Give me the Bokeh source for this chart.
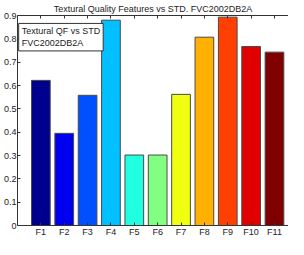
from bokeh.plotting import figure
from bokeh.models import ColumnDataSource, LinearAxis, FixedTicker, Label, Range1d
from bokeh.embed import file_html
from bokeh.resources import INLINE

categories = ["F1", "F2", "F3", "F4", "F5", "F6", "F7", "F8", "F9", "F10", "F11"]
values = [0.622, 0.395, 0.558, 0.880, 0.302, 0.302, 0.562, 0.807, 0.893, 0.767, 0.743]
colors = ["#00008F", "#0000F0", "#0050FF", "#00C0FF", "#20FFE0", "#80FF80",
          "#F0FF10", "#FFB000", "#FF4000", "#E00000", "#800000"]
y_ticks = [0, 0.1, 0.2, 0.3, 0.4, 0.5, 0.6, 0.7, 0.8, 0.9]
title_text = "Textural Quality Features vs STD. FVC2002DB2A"
legend_text = "Textural QF vs STD\nFVC2002DB2A"

positions = list(range(1, len(categories) + 1))
src = ColumnDataSource(dict(x=positions, top=values, color=colors))

FONT = "Liberation Sans"
FS = "9px"

p = figure(width=288, height=239, output_backend="svg", toolbar_location=None,
           x_range=Range1d(0, 11.6), y_range=Range1d(0, 0.9),
           title=title_text, min_border_left=0, min_border_right=0,
           min_border_top=0, min_border_bottom=0)
p.title.align = "center"
p.title.text_font = FONT
p.title.text_font_size = FS
p.title.text_font_style = "normal"
p.title.text_color = "#222222"
p.title.offset = 0
p.title.standoff = 3

p.vbar(x="x", top="top", width=0.8, fill_color="color", line_color="#4a4a4a",
       line_width=1, source=src)

p.grid.visible = False
p.outline_line_color = None
p.background_fill_color = "white"
p.border_fill_color = "white"

for ax in (p.xaxis[0], p.yaxis[0]):
    ax.major_tick_in = 3
    ax.major_tick_out = 0
    ax.minor_tick_line_color = None
    ax.axis_line_color = "#333333"
    ax.major_tick_line_color = "#333333"
    ax.major_label_text_font = FONT
    ax.major_label_text_font_size = FS
    ax.major_label_text_color = "#222222"
    ax.major_label_standoff = 1
    ax.axis_label_standoff = 0

p.xaxis.ticker = FixedTicker(ticks=positions)
p.xaxis.major_label_overrides = {i: c for i, c in zip(positions, categories)}
p.yaxis.ticker = FixedTicker(ticks=y_ticks)
p.yaxis.major_label_overrides = {t: ("0" if t == 0 else f"{t:.1f}") for t in y_ticks}

top_axis = LinearAxis(ticker=FixedTicker(ticks=[], minor_ticks=positions),
                      major_tick_in=0, major_tick_out=0,
                      minor_tick_in=3, minor_tick_out=0,
                      axis_line_color="#333333", minor_tick_line_color="#333333",
                      major_label_standoff=0, axis_label_standoff=0)
p.add_layout(top_axis, "above")

leg = Label(x=0.05, y=0.866, text=legend_text, text_font=FONT, text_font_size=FS,
            text_color="#222222", text_baseline="top", text_align="left",
            border_line_color="#333333", background_fill_color="white",
            padding=3, text_line_height=1.15)
p.add_layout(leg)

open("out.html", "w").write(file_html(p, INLINE))
